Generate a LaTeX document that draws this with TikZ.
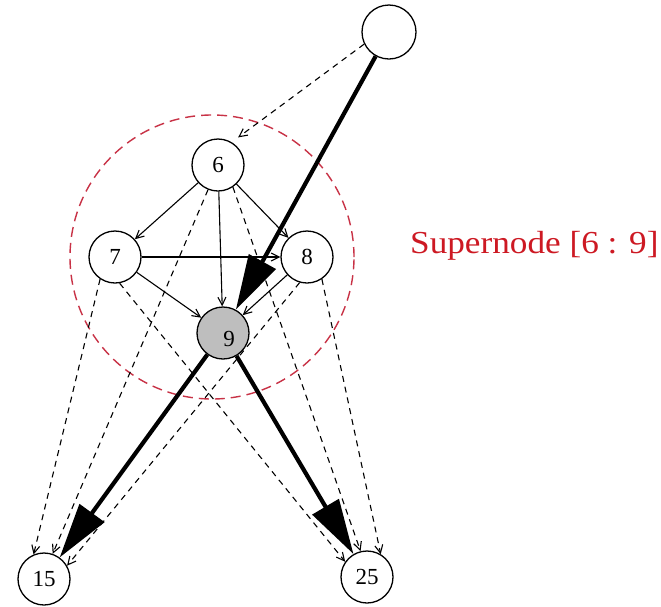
\documentclass[tikz,border=0pt]{standalone}
\usepackage{fontspec}
\setmainfont{Liberation Serif}
\usetikzlibrary{arrows.meta}
\definecolor{supred}{RGB}{205,25,35}
\definecolor{circred}{RGB}{200,50,70}
\definecolor{ninegray}{RGB}{190,190,190}
\begin{document}
\begin{tikzpicture}[x=1pt,y=-1pt,
  vtx/.style={circle,draw=black,line width=1.3pt,minimum size=52pt,inner sep=0pt,font=\fontsize{23}{23}\selectfont},
  thinarrow/.style={line width=1.1pt,-{Straight Barb[length=8pt,width=8pt]}},
  dasharrow/.style={line width=1.1pt,dash pattern=on 6pt off 5pt,-{Straight Barb[length=8pt,width=8pt]}},
  thickarrow/.style={line width=4.2pt,-{Triangle[length=55pt,width=30pt]}}]
\useasboundingbox (0,0) rectangle (661,606);
\fill[white] (0,0) rectangle (661,606);
\draw[circred,line width=1.4pt,dash pattern=on 10pt off 6pt] (212,257) circle[radius=142pt];
% nodes
\node[vtx,minimum size=54pt] (top) at (389,32) {};
\node[vtx] (n6) at (218,165) {6};
\node[vtx] (n7) at (115,257) {7};
\node[vtx] (n8) at (307,257) {8};
\node[vtx,fill=ninegray] (n9) at (223,333) {};
\node[font=\fontsize{23}{23}\selectfont,inner sep=0pt] (l9) at (229,339) {9};
\node[vtx] (n15) at (44,579) {15};
\node[vtx] (n25) at (367,577) {25};
\node[text=supred,font=\fontsize{32}{32}\selectfont,anchor=base west,inner sep=0pt] (lab) at (410,253) {\scalebox{1.1}[1]{Supernode [6 : 9]}};
% dashed edges
\draw[dasharrow,shorten >=8pt] (top.-154) -- (n6.59);
\draw[dasharrow] (n6.-112) -- (n15.71);
\draw[dasharrow] (n7.-124) -- (n15.113);
\draw[dasharrow] (n8.-106) -- (n15.30);
\draw[dasharrow] (n7.-80) -- (n25.145);
\draw[dasharrow] (n6.-56) -- (n25.104);
\draw[dasharrow] (n8.-56) -- (n25.59);
% thin solid edges
\draw[thinarrow] (n6) -- (n7);
\draw[thinarrow] (n6) -- (n8);
\draw[thinarrow] (n6) -- (n9);
\draw[thinarrow] (n7) -- (n8);
\draw[thinarrow] (n7) -- (n9);
\draw[thinarrow] (n8) -- (n9);
% thick edges
\draw[thickarrow] (top) -- (n9);
\draw[thickarrow] (n9) -- (n15);
\draw[thickarrow] (n9) -- (n25);
\end{tikzpicture}
\end{document}
